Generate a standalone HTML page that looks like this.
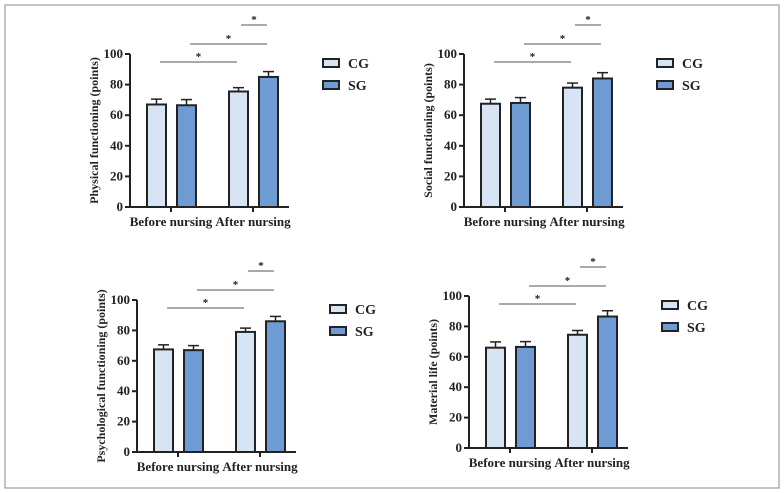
<!DOCTYPE html><html><head><style>body{margin:0;background:#fff}svg{display:block}text{font-family:"Liberation Serif",serif;font-weight:bold;fill:#222}</style></head><body>
<svg id="s" width="784" height="493">
<rect x="5" y="5" width="774" height="483" fill="#fff" stroke="#888" stroke-width="1"/>
</svg>
<script>
const categories=["Before nursing","After nursing"];
const titles=["Physical functioning (points)","Social functioning (points)","Psychological functioning (points)","Material life (points)"];
const cgValues=[[67,75.5],[67.5,78],[67.5,79],[66,74.5]];
const sgValues=[[66.5,85],[68,84],[67,86],[66.5,86.5]];
const cgErr=[[3.5,2.5],[3,3],[3,2.5],[3.8,2.8]];
const sgErr=[[3.7,3.5],[3.5,3.8],[3,3.2],[3.5,3.8]];
const yTicks=[0,20,40,60,80,100];
const panels=[{ax:130,y0:207,y100:54},{ax:464,y0:207,y100:54},{ax:137,y0:452,y100:300},{ax:469,y0:448,y100:296}];
const NS="http://www.w3.org/2000/svg",svg=document.getElementById('s');
function mk(t,a,p){const e=document.createElementNS(NS,t);for(const k in a)e.setAttribute(k,a[k]);(p||svg).appendChild(e);return e;}
panels.forEach((P,i)=>{
 const g=mk('g',{});
 
 
 const y=v=>P.y0-(v/100)*(P.y0-P.y100);
 const ax=P.ax;
 const xa=mk('line',{x1:ax,x2:ax+159,y1:P.y0,y2:P.y0,stroke:'#222','stroke-width':2},g);
 
 const ya=mk('line',{x1:ax,x2:ax,y1:P.y0+1,y2:P.y100,stroke:'#222','stroke-width':2},g);
 
 yTicks.forEach(t=>{mk('line',{x1:ax-5,x2:ax,y1:y(t),y2:y(t),stroke:'#222','stroke-width':2},g);
  const tx=mk('text',{x:ax-7,y:y(t)+4,'text-anchor':'end','font-size':13},g);tx.textContent=t;
  });
 const yl=mk('text',{x:0,y:0,'text-anchor':'middle','font-size':12,transform:`translate(${ax-32},${(P.y0+P.y100)/2}) rotate(-90)`},g);yl.textContent=titles[i];
 
 categories.forEach((c,j)=>{
  const cx=ax+41+j*82;
  mk('line',{x1:cx,x2:cx,y1:P.y0,y2:P.y0+5,stroke:'#222','stroke-width':2},g);
  const ct=mk('text',{x:cx,y:P.y0+19,'text-anchor':'middle','font-size':13},g);ct.textContent=c;
  
  [[cgValues,cgErr,'#d6e4f4',-24],[sgValues,sgErr,'#6f9bd4',6]].forEach(([V,E,col,off],k)=>{
   const v=V[i][j],e=E[i][j],bx=cx+off;
   mk('line',{x1:bx+9.5,x2:bx+9.5,y1:y(v),y2:y(v+e),stroke:'#222','stroke-width':1.5},g);
   mk('line',{x1:bx+4,x2:bx+15,y1:y(v+e),y2:y(v+e),stroke:'#222','stroke-width':1.5},g);
   const b=mk('rect',{x:bx,y:y(v),width:19,height:P.y0-y(v),fill:col,stroke:'#222','stroke-width':2},g);
   
   
  });
 });
 [[30,107,-8],[60,137,10],[111,137,29]].forEach(([a,b,dy])=>{
  const ly=P.y100-dy;
  mk('line',{x1:ax+a,x2:ax+b,y1:ly,y2:ly,stroke:'#555','stroke-width':1},g);
  const st=mk('text',{x:ax+(a+b)/2,y:ly-2,'text-anchor':'middle','font-size':11,'font-weight':'normal'},g);st.textContent='*';
  
 });
 [['CG','#d6e4f4'],['SG','#6f9bd4']].forEach(([n,col],k)=>{
  const ly=P.y100+9+k*22;
  const r=mk('rect',{x:ax+193,y:ly-4,width:16,height:8,fill:col,stroke:'#222','stroke-width':2},g);
  
  const t=mk('text',{x:ax+218,y:ly+5,'font-size':14},g);t.textContent=n;
  
 });
});
</script></body></html>
